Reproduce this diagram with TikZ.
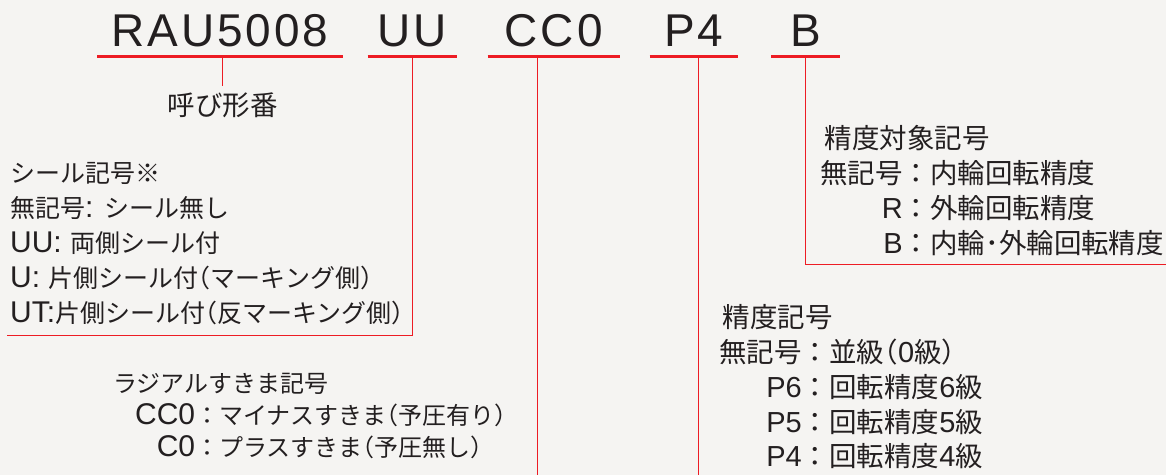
\documentclass[tikz,border=0pt]{standalone}
\usepackage{fontspec}
\usepackage{tikz}
\usetikzlibrary{positioning,calc}
\setmainfont{Noto Sans CJK JP}
\newfontfamily\enfont{Liberation Sans}
\newfontfamily\halffont{Noto Sans CJK JP}[RawFeature=+halt]
\newfontfamily\codefont{Liberation Sans}[LetterSpace=6.5]
\definecolor{nskred}{RGB}{237,28,36}
\definecolor{nskgray}{RGB}{35,31,32}
\definecolor{nskbg}{RGB}{245,244,242}
\newcommand{\ensz}{30}
\newcommand{\entxt}[1]{{\enfont\fontsize{\ensz}{\ensz}\selectfont #1}}
\newcommand{\lpar}{{\halffont （}}
\newcommand{\rpar}{{\halffont ）}}
\newcommand{\symkey}[2][80pt]{\makebox[#1][r]{#2}}
\tikzstyle{code} = [font=\codefont\fontsize{46}{46}\selectfont, text=nskgray, anchor=base, inner xsep=0pt, inner ysep=9pt]
\tikzstyle{underline} = [nskred, line width=3pt]
\tikzstyle{lead} = [nskred, line width=1pt]
\tikzstyle{note} = [anchor=base west, inner sep=0pt, text=nskgray, align=left]

\begin{document}
\begin{tikzpicture}[x=1pt, y=-1pt]
\fill[nskbg] (0,0) rectangle (1166,475);

% Part number
\node[code, minimum width=245pt] (rau) at (220,47) {RAU5008};
\node[code, minimum width=89pt] (uu) at (412.5,47) {UU};
\node[code, minimum width=132pt] (cc) at (554,47) {CC0};
\node[code, minimum width=88pt] (p4) at (694,47) {P4};
\node[code, minimum width=68pt] (b) at (806,47) {B};

\draw[underline] (rau.south west) -- (rau.south east);
\draw[underline] (uu.south west) -- (uu.south east);
\draw[underline] (cc.south west) -- (cc.south east);
\draw[underline] (p4.south west) -- (p4.south east);
\draw[underline] (b.south west) -- (b.south east);

% Explanations (base = last line)
\node[note, anchor=base, font=\fontsize{27.5}{33}\selectfont] (name) at (223,116) {呼び形番};

\node[note, font=\fontsize{25}{35}\selectfont\renewcommand\ensz{30}] (seal) at (10,323) {%
シール記号※\\
無記号\entxt{: }シール無し\\
\entxt{UU: }両側シール付\\
\entxt{U: }片側シール付\lpar マーキング側\rpar\\
\entxt{UT:}片側シール付\lpar 反マーキング側\rpar};

\node[note, font=\fontsize{24}{32}\selectfont\renewcommand\ensz{30}] (radial) at (113,457) {%
ラジアルすきま記号\\
\symkey[82pt]{\entxt{CC0}}：マイナスすきま\lpar 予圧有り\rpar\\
\symkey[82pt]{\entxt{C0}}：プラスすきま\lpar 予圧無し\rpar};

\node[note, font=\fontsize{27.5}{34.75}\selectfont\renewcommand\ensz{29}] (prec) at (723,467) {%
精度記号\\
\symkey[79pt]{無記号}：並級\lpar\entxt{0}級\rpar\\
\symkey[79pt]{\entxt{P6}}：回転精度\entxt{6}級\\
\symkey[79pt]{\entxt{P5}}：回転精度\entxt{5}級\\
\symkey[79pt]{\entxt{P4}}：回転精度\entxt{4}級};

\node[note, font=\fontsize{27.5}{35}\selectfont\renewcommand\ensz{29}] (tgt) at (825,254) {%
精度対象記号\\
\symkey[78pt]{無記号}：内輪回転精度\\
\symkey[78pt]{\entxt{R}}：外輪回転精度\\
\symkey[78pt]{\entxt{B}}：内輪･外輪回転精度};

% Leaders
\coordinate (nametop) at (223,86);
\coordinate (sealend) at (7,336);
\coordinate (radend) at (538,475);
\coordinate (precend) at (699,475);
\coordinate (tgtend) at (1166,265);

\draw[lead] (nametop |- rau.south) -- (nametop);
\draw[lead] (uu.south) |- (sealend);
\draw[lead] (radend |- cc.south) -- (radend);
\draw[lead] (precend |- p4.south) -- (precend);
\draw[lead] (b.south) |- (tgtend);
\end{tikzpicture}
\end{document}
